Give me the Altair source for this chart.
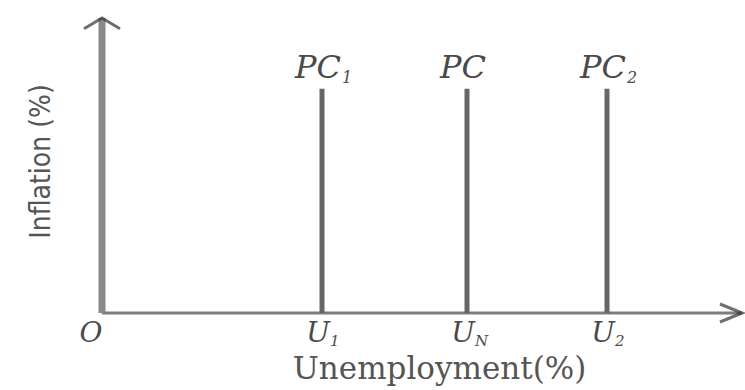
import altair as alt
import pandas as pd

# Phillips curves: short-run curves shift around the natural rate
curve_labels = ["PC", "PC", "PC"]
curve_subs = ["1", "", "2"]
rate_labels = ["U", "U", "U"]
rate_subs = ["1", "N", "2"]
unemployment = [2.2, 3.65, 5.05]   # U1, UN, U2
curve_top = 76                      # height of each vertical curve
x_max = 6.4
y_max = 100

curves = pd.DataFrame({
    "u": unemployment,
    "top": [curve_top] * 3,
    "base": [0] * 3,
    "label": curve_labels,
    "sub": curve_subs,
    "rate": rate_labels,
    "rate_sub": rate_subs,
})
axes = pd.DataFrame({"x": [0, 0], "y": [0, 0], "x2": [x_max, 0], "y2": [0, y_max]})
origin = pd.DataFrame({"x": [0], "y": [0], "t": ["O"]})
up_arrow = pd.DataFrame({"x": [0], "y": [y_max]})
right_arrow = pd.DataFrame({"x": [x_max], "y": [0]})

line_color = "#7c7c7c"
text_color = "#4a4a4a"

xs = alt.Scale(domain=[0, x_max], nice=False, zero=False)
ys = alt.Scale(domain=[0, y_max], nice=False, zero=False)

x_axis = alt.Axis(title="Unemployment(%)", labels=False, ticks=False, domain=False, grid=False,
                  titleFont="DejaVu Serif", titleFontSize=31, titleFontWeight="normal",
                  titleColor="#555555", titleX=337, titleY=65, titleBaseline="alphabetic")
y_axis = alt.Axis(title="Inflation (%)", labels=False, ticks=False, domain=False, grid=False,
                  titleFont="Liberation Sans Narrow, DejaVu Sans Condensed, sans-serif",
                  titleFontSize=28, titleFontWeight="normal", titleColor="#555555",
                  titleAngle=-90, titleX=-61, titleY=143, titleAlign="center",
                  titleBaseline="middle")

base = alt.Chart(curves)

axis_x_rule = alt.Chart(axes.iloc[[0]]).mark_rule(color=line_color, strokeWidth=3).encode(
    x=alt.X("x:Q", scale=xs, axis=x_axis), y=alt.Y("y:Q", scale=ys, axis=y_axis),
    x2="x2:Q", y2="y2:Q")
axis_y_rule = alt.Chart(axes.iloc[[1]]).mark_rule(color="#8a8a8a", strokeWidth=7).encode(
    x=alt.X("x:Q", scale=xs), y=alt.Y("y:Q", scale=ys), x2="x2:Q", y2="y2:Q")

up_head = alt.Chart(up_arrow).mark_point(
    shape="M-1,0.6L0,0L1,0.6", filled=False, stroke="#333333", strokeWidth=3, size=1296
).encode(x=alt.X("x:Q", scale=xs), y=alt.Y("y:Q", scale=ys))
right_head = alt.Chart(right_arrow).mark_point(
    shape="M-1.1,-0.45L0,0L-1.1,0.45", filled=False, stroke="#333333", strokeWidth=3, size=1600
).encode(x=alt.X("x:Q", scale=xs), y=alt.Y("y:Q", scale=ys))

pc_lines = base.mark_rule(color="#666666", strokeWidth=5).encode(
    x=alt.X("u:Q", scale=xs), y=alt.Y("base:Q", scale=ys), y2="top:Q")

pc_text = base.mark_text(font="DejaVu Serif", fontStyle="italic", fontSize=32,
                         color=text_color, align="center", baseline="alphabetic",
                         dx=-4, dy=-11).encode(
    x=alt.X("u:Q", scale=xs), y=alt.Y("top:Q", scale=ys), text="label:N")
pc_sub = base.mark_text(font="DejaVu Serif", fontStyle="italic", fontSize=16,
                        color=text_color, align="left", baseline="alphabetic",
                        dx=20, dy=-6).encode(
    x=alt.X("u:Q", scale=xs), y=alt.Y("top:Q", scale=ys), text="sub:N")

u_text = base.mark_text(font="DejaVu Serif", fontStyle="italic", fontSize=28,
                        color=text_color, align="center", baseline="alphabetic",
                        dx=-4, dy=29).encode(
    x=alt.X("u:Q", scale=xs), y=alt.Y("base:Q", scale=ys), text="rate:N")
u_sub = base.mark_text(font="DejaVu Serif", fontStyle="italic", fontSize=15,
                       color=text_color, align="left", baseline="alphabetic",
                       dx=8, dy=33).encode(
    x=alt.X("u:Q", scale=xs), y=alt.Y("base:Q", scale=ys), text="rate_sub:N")

o_text = alt.Chart(origin).mark_text(font="DejaVu Serif", fontStyle="italic", fontSize=28,
                                     color=text_color, align="center", baseline="alphabetic",
                                     dx=-11, dy=29).encode(
    x=alt.X("x:Q", scale=xs), y=alt.Y("y:Q", scale=ys), text="t:N")

chart = alt.layer(
    axis_x_rule, axis_y_rule, pc_lines, up_head, right_head,
    pc_text, pc_sub, u_text, u_sub, o_text
).properties(
    width=640, height=295,
    padding={"left": 102, "top": 18, "right": 3, "bottom": 77},
    autosize=alt.AutoSizeParams(type="none"),
    background="white",
).configure_view(stroke=None, clip=False)

chart.save("out.html", embed_options={"renderer": "svg", "actions": False})
